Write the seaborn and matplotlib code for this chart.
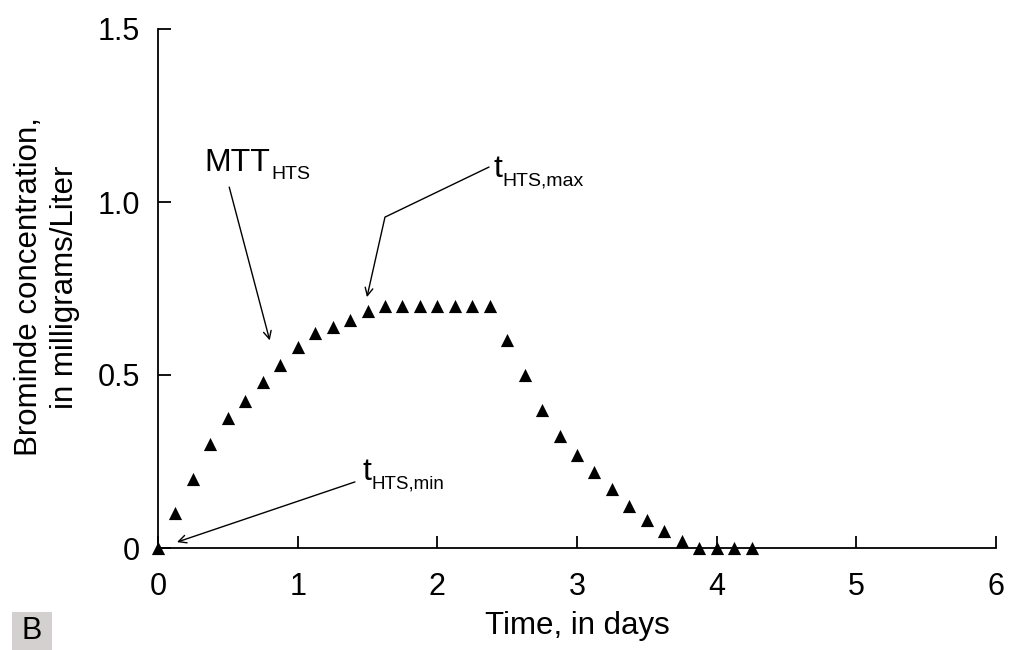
import matplotlib
matplotlib.use("Agg")
import matplotlib.pyplot as plt
import seaborn as sns
import pandas as pd
from matplotlib.patches import Rectangle

# data
days = [0, 0.125, 0.25, 0.375, 0.5, 0.625, 0.75, 0.875, 1.0, 1.125, 1.25, 1.375, 1.5,
        1.625, 1.75, 1.875, 2.0, 2.125, 2.25, 2.375,
        2.5, 2.625, 2.75, 2.875, 3.0, 3.125, 3.25, 3.375, 3.5, 3.625, 3.75,
        3.875, 4.0, 4.125, 4.25]
bromide = [0, 0.10, 0.20, 0.30, 0.375, 0.425, 0.48, 0.53, 0.58, 0.62, 0.64, 0.66, 0.685,
           0.70, 0.70, 0.70, 0.70, 0.70, 0.70, 0.70,
           0.60, 0.50, 0.40, 0.325, 0.27, 0.22, 0.17, 0.12, 0.08, 0.05, 0.02,
           0, 0, 0, 0]
x_ticks = [0, 1, 2, 3, 4, 5, 6]
y_ticks = [0, 0.5, 1.0, 1.5]
y_tick_labels = ['0', '0.5', '1.0', '1.5']

df = pd.DataFrame({'days': days, 'bromide': bromide})

sns.set_style('ticks')
plt.rcParams['font.family'] = ['Liberation Sans', 'DejaVu Sans']
plt.rcParams['text.color'] = 'black'
plt.rcParams['xtick.color'] = 'black'
plt.rcParams['ytick.color'] = 'black'
plt.rcParams['axes.labelcolor'] = 'black'

fig, ax = plt.subplots(figsize=(10.11, 6.5), dpi=100)
fig.subplots_adjust(left=158/1011, right=996/1011, bottom=102/650, top=621/650)

sns.scatterplot(data=df, x='days', y='bromide', marker='^', s=90, color='black',
                edgecolor='black', linewidth=0, ax=ax, clip_on=False, zorder=5)

ax.set_xlim(0, 6)
ax.set_ylim(0, 1.5)
ax.set_xticks(x_ticks)
ax.set_xticklabels([str(t) for t in x_ticks])
ax.set_yticks(y_ticks)
ax.set_yticklabels(y_tick_labels)
ax.tick_params(axis='both', direction='in', length=9, width=1.3, labelsize=22, color='black')
ax.tick_params(axis='x', pad=17)
ax.tick_params(axis='y', pad=13)
sns.despine(ax=ax)
for s in ['left', 'bottom']:
    ax.spines[s].set_linewidth(1.3)
    ax.spines[s].set_color('black')

ax.set_xlabel('Time, in days', fontsize=22.5, labelpad=7)
ax.set_ylabel('')
fig.text(47/1011, 1 - 287/650, 'Brominde concentration,\nin milligrams/Liter', rotation=90,
         ha='center', va='center', fontsize=22.5, linespacing=1.25, multialignment='center')

arrow = dict(arrowstyle='->', color='black', lw=1, mutation_scale=14, shrinkA=0, shrinkB=0)

# MTT_HTS
mtt = ax.text(0.33, 1.09, 'MTT', fontsize=23, ha='left', va='baseline')
ax.annotate('HTS', xy=(1, 0), xycoords=mtt, xytext=(1, -1), textcoords='offset points',
            fontsize=14, ha='left', va='baseline')
ax.annotate('', xy=(0.80, 0.60), xytext=(0.51, 1.043), arrowprops=arrow)

# t_HTS,max
tmax = ax.text(2.40, 1.072, 't', fontsize=23, ha='left', va='baseline')
ax.annotate('HTS,max', xy=(1, 0), xycoords=tmax, xytext=(0, -1), textcoords='offset points',
            fontsize=14, ha='left', va='baseline')
ax.annotate('', xy=(1.496, 0.725), xytext=(2.37, 1.101),
            arrowprops=dict(arrow, connectionstyle='angle,angleA=25.7,angleB=77.3,rad=0'))

# t_HTS,min
tmin = ax.text(1.467, 0.197, 't', fontsize=23, ha='left', va='baseline')
ax.annotate('HTS,min', xy=(1, 0), xycoords=tmin, xytext=(0, -1), textcoords='offset points',
            fontsize=13.5, ha='left', va='baseline')
ax.annotate('', xy=(0.136, 0.017), xytext=(1.41, 0.191), arrowprops=arrow)

# panel letter
fig.patches.append(Rectangle((12/1011, 0), 40/1011, 38/650, transform=fig.transFigure,
                             facecolor='#d3d0cf', edgecolor='none'))
fig.text(32/1011, 1 - 631/650, 'B', fontsize=22, ha='center', va='center')

fig.savefig('out.png', dpi=100)
